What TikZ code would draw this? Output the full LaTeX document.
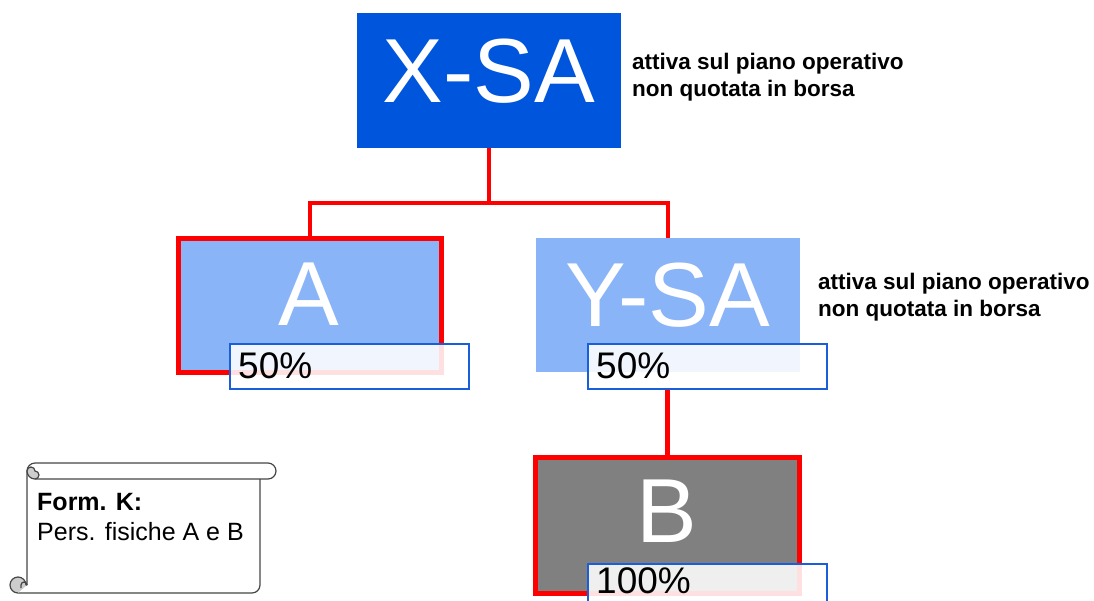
\documentclass[tikz,border=0pt]{standalone}
\usepackage{fontspec}
\setmainfont{Liberation Sans}
\definecolor{darkblue}{RGB}{0,85,221}
\definecolor{lightblue}{RGB}{138,180,248}
\definecolor{boxgray}{RGB}{128,128,128}
\definecolor{pctblue}{RGB}{26,95,217}
\definecolor{linkred}{RGB}{255,0,0}
\definecolor{scrollline}{RGB}{70,70,70}
\definecolor{curlgray}{RGB}{205,205,205}
\tikzset{
  company/.style={rectangle, inner sep=0pt, minimum width=264pt, minimum height=135pt},
  redbord/.style={draw=linkred, line width=5pt},
  bigname/.style={text=white, inner sep=0pt, anchor=base, font=\fontsize{91}{100}\selectfont},
  pctbox/.style={rectangle, inner sep=0pt, draw=pctblue, line width=2.5pt, fill=white, fill opacity=0.88, text opacity=1, minimum width=239pt, minimum height=45pt},
  pcttext/.style={inner sep=0pt, anchor=base west, font=\fontsize{37}{40}\selectfont},
  note/.style={inner sep=0pt, anchor=base west, align=left, font=\bfseries\fontsize{22.5}{27}\selectfont},
  conn/.style={draw=linkred, line width=4.5pt},
  scroll/.style={draw=scrollline, line width=1.2pt, line join=round}
}
\begin{document}
\begin{tikzpicture}[x=1pt, y=-1pt]
\useasboundingbox (0,0) rectangle (1094,600);
\clip (0,0) rectangle (1094,600);
% company boxes
\node[company, fill=darkblue] (xsa) at (489,80.5) {};
\node[company, fill=lightblue, redbord, minimum width=263pt, minimum height=134pt] (a) at (310,305.5) {};
\node[company, fill=lightblue, minimum height=134pt] (ysa) at (668,305) {};
\node[company, fill=boxgray, redbord, minimum height=136pt] (b) at (667.5,525.5) {};
% connectors
\draw[conn] (xsa.south) -- ++(0,55) coordinate (j);
\draw[conn] (j) -| (a.north);
\draw[conn] (j) -| (ysa.north);
% names
\node[bigname] (txsa) at (489,102) {X-SA};
\node[bigname] (ta) at (309,325) {A};
\node[bigname] (tysa) at (668,326) {Y-SA};
\node[bigname] (tb) at (667,542) {B};
% percentage boxes
\node[pctbox] (pa) at (349.5,366.5) {};
\node[pctbox] (py) at (707.5,366.5) {};
\node[pctbox] (pb) at (707.5,586.5) {};
\draw[conn] (py.south -| b.north) -- (b.north);
\node[pcttext] (tpa) at (238,378) {50\%};
\node[pcttext] (tpy) at (596,378) {50\%};
\node[pcttext] (tpb) at (596,593) {100\%};
% notes (base = last line)
\node[note] (n1) at (632,96) {attiva sul piano operativo\\non quotata in borsa};
\node[note] (n2) at (818,316) {attiva sul piano operativo\\non quotata in borsa};
% scroll
\fill[white] (27,471) rectangle (260,593);
\draw[scroll, fill=white] (27,585) -- (27,471) arc[start angle=180, end angle=90, radius=8pt] -- (268,463) arc[start angle=90, end angle=-90, radius=8pt] -- (35,479);
\draw[scroll] (260,479) -- (260,585) arc[start angle=0, end angle=-90, radius=8pt] -- (18,593);
\draw[scroll, fill=curlgray] (35,479) arc[start angle=-90, end angle=-180, radius=8pt] arc[start angle=180, end angle=0, radius=4pt] arc[start angle=90, end angle=-90, radius=4pt];
\draw[scroll, fill=curlgray] (18,593) arc[start angle=-90, end angle=-360, radius=8pt] -- (27,585);
\draw[scroll] (27,585) arc[start angle=0, end angle=180, radius=3pt] -- (21,588);
\node[inner sep=0pt, anchor=base west, align=left, font=\fontsize{25}{30}\selectfont] (form) at (37,540) {\textbf{Form. K:}\\Pers. fisiche A e B};
\end{tikzpicture}
\end{document}
